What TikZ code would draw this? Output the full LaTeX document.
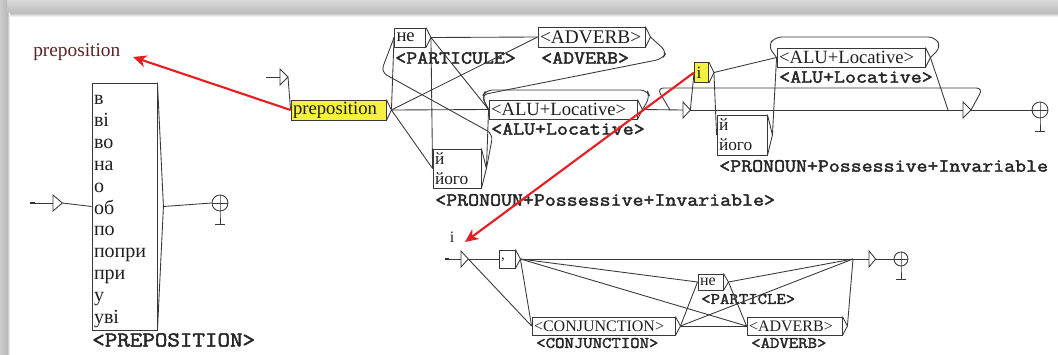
\documentclass[tikz,border=0pt]{standalone}
\usepackage{fontspec}
\setmainfont{Liberation Serif}
\newfontfamily\labf{Latin Modern Mono}[FakeStretch=1.14,FakeBold=2.2]
\usetikzlibrary{arrows.meta}
\definecolor{uyel}{RGB}{246,240,64}
\definecolor{ured}{RGB}{228,32,36}
\definecolor{ucmt}{RGB}{92,36,36}
\newcommand\ubr[2][3.75pt]{\coordinate (#2-o) at ([xshift=#1]#2.east);
  \draw[ln] (#2.north east) -- (#2-o) -- (#2.south east);}
\newcommand\utri[2]{\coordinate (#1t) at ([xshift=#2]#1);
  \draw[ln] ([yshift=6pt]#1) -- (#1t) -- ([yshift=-6pt]#1) -- cycle;}
\newcommand\ufin[1]{\draw[ln] (#1.north) -- (#1.south) -- ++(0,13) coordinate (#1f);
  \draw[ln] (#1.west) -- (#1.east); \draw[ln] ([xshift=-3.5pt]#1f) -- ([xshift=3.5pt]#1f);}
\tikzset{
  ln/.style={draw=black!78, line width=0.65pt},
  ub/.style={ln, inner xsep=1.5pt, inner ysep=0pt, align=left, anchor=center, text=black!88},
  fin/.style={ln, circle, inner sep=0pt, minimum size=12pt},
  lab16/.style={font=\labf\fontsize{16}{16}\selectfont, inner sep=0pt, anchor=west, text=black!85},
  lab14/.style={font=\labf\fontsize{14}{14}\selectfont, inner sep=0pt, anchor=west, text=black!85},
  lab12/.style={font=\labf\fontsize{12}{12}\selectfont, inner sep=0pt, anchor=west, text=black!85},
  redarrow/.style={draw=ured, line width=1.6pt, -{Stealth[length=10pt,width=9pt,inset=3pt]}},
  rc/.style={ln, rounded corners=5pt},
}
\begin{document}
\begin{tikzpicture}[x=0.75pt,y=-0.75pt]
\useasboundingbox (0,0) rectangle (1058,354);
\fill[white] (0,0) rectangle (1058,354);
\shade[top color=gray!30, bottom color=gray!52] (0,0) rectangle (1058,13);
\shade[top color=gray!52, bottom color=white] (0,13) rectangle (1058,17);
\shade[left color=gray!40, right color=gray!55] (0,0) rectangle (7,354);
\shade[left color=gray!55, right color=white] (7,13) rectangle (10,354);

% ---------------- left graph ----------------
\node[font=\fontsize{14.5}{14.5}\selectfont, text=ucmt, anchor=west, inner sep=0pt] (cm1) at (33,52) {preposition};
\node[ub, text width=45.75pt, minimum height=185.25pt, font=\fontsize{15}{16.4}\selectfont] (L) at (124.5,206.5)
  {\rule{0pt}{14.5pt}в\\ві\\во\\на\\о\\об\\по\\попри\\при\\у\\уві};
\ubr[4.5pt]{L}
\node[lab16] (lL) at (92,340) {<PREPOSITION>};
\coordinate (s1) at (53,203);
\coordinate (s1in) at (30,203);
\utri{s1}{7pt}
\draw[ln] (s1in) -- (s1);
\draw[line width=1.4pt, black!80] (s1in) -- ++(5,0);
\draw[ln] (s1t) -- (L.west);
\node[fin] (F1) at (220,203) {};
\ufin{F1}
\draw[ln] (L-o) -- (F1.west);

% ---------------- middle graph ----------------
\node[ub, fill=uyel, text width=68.25pt, minimum height=15pt, font=\fontsize{14}{14}\selectfont] (P) at (338.5,110) {preposition};
\ubr{P}
\node[ub, text width=20.25pt, minimum height=14.25pt, font=\fontsize{14}{14}\selectfont] (N1) at (410,37.5) {не};
\ubr{N1}
\node[lab14] (lN1) at (395,58) {<PARTICULE>};
\node[ub, text width=77.25pt, minimum height=15pt, font=\fontsize{14.5}{14.5}\selectfont] (A1) at (591.5,37) {<ADVERB>};
\ubr{A1}
\node[lab14] (lA1) at (541,58) {<ADVERB>};
\node[ub, text width=108pt, minimum height=14.25pt, font=\fontsize{14}{14}\selectfont] (L1) at (563,109.5) {<ALU+Locative>};
\ubr{L1}
\node[lab14] (lL1) at (491,129) {<ALU+Locative>};
\node[ub, text width=33pt, minimum height=29.25pt, font=\fontsize{13}{15}\selectfont] (J1) at (457,168.5) {й\\його};
\ubr{J1}
\node[lab14] (lJ1) at (435,200) {<PRONOUN+Possessive+Invariable>};

\coordinate (s2) at (280,77);
\coordinate (s2in) at (266,77);
\utri{s2}{6pt}
\draw[ln] (s2in) -- (s2);
\draw[ln] (s2t) -- (P.west);
\draw[ln] (P-o) -- (N1.west);
\draw[ln] (P-o) -- (A1.west);
\draw[ln] (P-o) -- (L1.west);
\draw[ln] (P-o) -- (J1.west);
\draw[ln] (N1-o) -- (A1.west);
\draw[ln] (N1-o) -- (L1.west);
\draw[ln] (N1-o) -- (J1.west);
\draw[ln] (J1-o) -- (L1.west);
\draw[rc] (J1-o) -- (493,134) -- (381,72) -- (N1.west);
\draw[rc] (A1-o) -- (667,52) -- (662,59) -- (481,95) -- (L1.west);
\draw[rc] (L1-o) -- (650,97) -- (647,90) -- (486,90) -- (482,97) -- (L1.west);

% ---------------- right part ----------------
\node[ub, fill=uyel, text width=7.5pt, minimum height=15pt, font=\fontsize{13}{13}\selectfont] (I) at (701.5,72.5) {i};
\ubr{I}
\node[ub, text width=108pt, minimum height=14.25pt, font=\fontsize{14}{14}\selectfont] (L2) at (851,57.5) {<ALU+Locative>};
\ubr{L2}
\node[lab14] (lL2) at (779,77) {<ALU+Locative>};
\node[ub, text width=34.5pt, minimum height=30pt, font=\fontsize{13}{15}\selectfont] (J2) at (742,135) {й\\його};
\ubr{J2}
\node[lab14] (lJ2) at (719,166) {<PRONOUN+Possessive+Invariable};

\coordinate (T1) at (683,110);
\utri{T1}{5.5pt}
\coordinate (T2) at (963,110);
\utri{T2}{6pt}
\coordinate (jn) at (948,110);
\coordinate (lp) at (670,110);
\draw[ln] (L1-o) -- (T1);
\draw[ln] (T1t) -- (T2);
\draw[ln] (T1t) -- (I.west);
\draw[ln] (I-o) -- (L2.west);
\draw[ln] (I-o) -- (J2.west);
\draw[ln] (J2-o) -- (L2.west);
\draw[rc] (L2-o) -- (941,47) -- (935,37) -- (775,37) -- (768,46) -- (L2.west);
\draw[ln] (L2-o) -- (jn);
\draw[rc] (T2t) -- (983,88) -- (657,88) -- (lp);
\node[fin] (F2) at (1040,110) {};
\ufin{F2}
\draw[ln] (T2t) -- (F2.west);

% ---------------- lower graph ----------------
\node[font=\fontsize{12}{12}\selectfont, text=black!85, inner sep=0pt] (cm2) at (452,237) {i};
\node[ub, text width=9pt, minimum height=13.5pt, font=\fontsize{11}{11}\selectfont] (B) at (507,259) {\raisebox{-3pt}{,}};
\ubr{B}
\node[ub, text width=15.75pt, minimum height=12pt, font=\fontsize{12}{12}\selectfont] (N2) at (710.5,282) {не};
\ubr{N2}
\node[lab12] (lN2) at (701,299) {<PARTICLE>};
\node[ub, text width=104.25pt, minimum height=13.5pt, font=\fontsize{12}{12}\selectfont] (C) at (603.5,326) {<CONJUNCTION>};
\ubr{C}
\node[lab12] (lC) at (536,343) {<CONJUNCTION>};
\node[ub, text width=68.25pt, minimum height=13.5pt, font=\fontsize{12}{12}\selectfont] (A2) at (794.5,326) {<ADVERB>};
\ubr{A2}
\node[lab12] (lA2) at (751,343) {<ADVERB>};

\coordinate (s3) at (461,259);
\coordinate (s3in) at (445,259);
\utri{s3}{5.5pt}
\draw[ln] (s3in) -- (s3);
\draw[line width=1.4pt, black!80] (s3in) -- ++(4,0);
\coordinate (j3) at (853,259);
\coordinate (T3) at (869,259);
\utri{T3}{5pt}
\draw[ln] (s3t) -- (B.west);
\draw[ln] (s3t) -- (C.west);
\draw[ln] (B-o) -- (C.west);
\draw[ln] (B-o) -- (N2.west);
\draw[ln] (B-o) -- (A2.west);
\draw[ln] (B-o) -- (j3);
\draw[ln] (C-o) -- (N2.west);
\draw[ln] (C-o) -- (A2.west);
\draw[ln] (C-o) -- (j3);
\draw[ln] (N2-o) -- (A2.west);
\draw[ln] (N2-o) -- (j3);
\draw[ln] (A2-o) -- (j3);
\draw[ln] (j3) -- (T3);
\node[fin, minimum size=10.5pt] (F3) at (901,259) {};
\ufin{F3}
\draw[ln] (T3t) -- (F3.west);

% ---------------- red arrows ----------------
\coordinate (ra1) at (133,57);
\coordinate (ra2) at (465,242);
\draw[redarrow] (P.west) -- (ra1);
\draw[redarrow] (I.west) -- (ra2);
\end{tikzpicture}
\end{document}
